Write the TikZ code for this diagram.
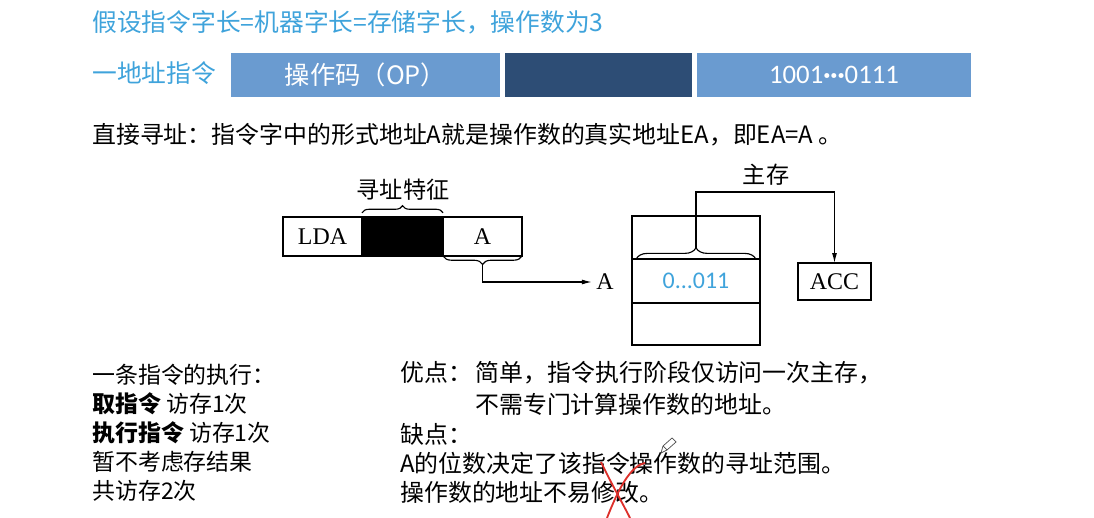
\documentclass[tikz,border=0pt]{standalone}
\usepackage{fontspec}
\setmainfont{Liberation Serif}
\newfontfamily\cjk{Noto Sans CJK SC}
\newfontfamily\latinsans{Carlito}
\usetikzlibrary{arrows.meta, positioning, calc, decorations.pathreplacing}
\definecolor{tlblue}{HTML}{3FA3DB}
\definecolor{barlight}{HTML}{6A9BD0}
\definecolor{bardark}{HTML}{2D4D75}
\definecolor{markred}{HTML}{DD2F2A}

\begin{document}
\begin{tikzpicture}[
  x=0.025cm, y=-0.025cm,
  >=Latex,
  line join=miter,
  head/.style={font=\cjk\fontsize{17.6}{20}\selectfont, text=tlblue, anchor=west, inner sep=0pt},
  bar/.style={draw=none, text=white, inner sep=0pt, outer sep=0pt, minimum height=1.1cm,
              font=\cjk\fontsize{18}{20}\selectfont},
  body/.style={font=\cjk\fontsize{17}{19}\selectfont, anchor=west, inner sep=0pt},
  cell/.style={draw=black, line width=0.8pt, inner sep=0pt, outer sep=0pt,
               font=\fontsize{17}{18}\selectfont},
  lbl/.style={font=\cjk\fontsize{16.5}{18}\selectfont, inner sep=0pt},
  brace/.style={draw, line width=0.8pt, decorate, decoration={brace, amplitude=#1}},
  brace/.default=5pt,
  link/.style={draw, line width=0.8pt, -{Latex[length=7pt, width=3.5pt]}},
]
\useasboundingbox (0,0) rectangle (1094,518);

% ----- heading and instruction format -----
\node[head] (title) at (92,22) {假设指令字长=机器字长=存储字长，操作数为3};
\node[head] (kind) at (92,73) {一地址指令};
\node[bar, fill=barlight, minimum width=6.725cm] (opbar) at (365.5,75) {操作码（OP）};
\node[bar, fill=bardark, minimum width=4.675cm] (modebar) at (598.5,75) {};
\node[bar, fill=barlight, minimum width=6.85cm, font=\latinsans\fontsize{19}{20}\selectfont]
  (adbar) at (834,75) {1001\textbf{\textperiodcentered\textperiodcentered\textperiodcentered}0111};

\node[body] (defn) at (92,135)
  {直接寻址：指令字中的形式地址A就是操作数的真实地址EA，即EA=A 。};

% ----- instruction word -----
\node[cell, minimum width=1.975cm, minimum height=0.975cm] (lda) at (322.5,236.5) {LDA};
\node[cell, fill=black, minimum width=2.025cm, minimum height=0.975cm, right=0pt of lda] (mode) {};
\node[cell, minimum width=1.975cm, minimum height=0.975cm, right=0pt of mode] (afield) {A};
\draw[brace=5pt] ([yshift=3pt]mode.north west) -- ([yshift=3pt]mode.north east);
\node[lbl] (feat) at (403,190) {寻址特征};
\draw[brace=6pt] (afield.south east) -- (afield.south west);
\coordinate (atip) at ($(afield.south)+(0,7.5)$);
\node[inner sep=0pt, anchor=west, font=\fontsize{17}{18}\selectfont] (aname) at (596,282) {A};
\draw[link] (atip) |- ([xshift=-3pt]aname.west);

% ----- main memory and ACC -----
\node[cell, minimum width=3.2cm, minimum height=1.075cm] (mtop) at (696,237.5) {};
\node[cell, minimum width=3.2cm, minimum height=1.1cm, below=0pt of mtop,
      font=\latinsans\fontsize{17}{18}\selectfont, text=tlblue] (mcell) {0...011};
\node[cell, minimum width=3.2cm, minimum height=1.05cm, below=0pt of mcell] (mbot) {};
\draw[brace=8pt] ([xshift=3pt]mcell.north west) -- ([xshift=-3pt]mcell.north east);
\coordinate (mtip) at ($(mcell.north)+(0,-11)$);
\node[lbl] (mem) at (766,175) {主存};
\node[cell, minimum width=1.825cm, minimum height=0.925cm] (acc) at (834.5,281.5) {ACC};
\coordinate (route) at (0,192);
\draw[link] (mtip) -- (mtip |- route) -| (acc.north);

% ----- execution, pros and cons -----
\tikzset{body/.append style={font=\cjk\fontsize{16.3}{19}\selectfont}}
\node[body] (run0) at (92,375) {一条指令的执行：};
\node[body] (run1) at (92,404) {\textbf{取指令} 访存1次};
\node[body] (run2) at (92,433) {\textbf{执行指令} 访存1次};
\node[body] (run3) at (92,462) {暂不考虑存结果};
\node[body] (run4) at (92,491) {共访存2次};

\tikzset{body/.append style={font=\cjk\fontsize{17}{19}\selectfont}}
\node[body] (pro0) at (400,373) {优点：\,简单，指令执行阶段仅访问一次主存，};
\node[body] (pro1) at (475,404) {不需专门计算操作数的地址。};
\node[body] (con0) at (400,434) {缺点：};
\node[body] (con1) at (400,463) {A的位数决定了该指令操作数的寻址范围。};
\node[body] (con2) at (400,492) {操作数的地址不易修改。};

% ----- hand marks -----
\draw[markred, line width=1.3pt] (601,462) .. controls (612,485) and (622,502) .. (630,518);
\draw[markred, line width=1.3pt] (645,463) .. controls (630,466) and (618,490) .. (607,518);
\draw[black!70, line width=0.5pt, fill=white] (661,453) -- (663,446) -- (672,438) -- (676,442) -- (667,450) -- cycle;
\draw[black!70, line width=0.5pt] (663,446) -- (667,450);
\end{tikzpicture}
\end{document}
